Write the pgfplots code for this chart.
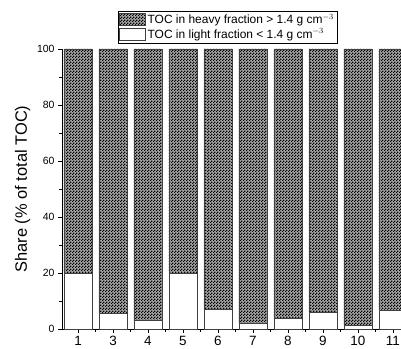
\documentclass[border=0pt]{standalone}
\usepackage{pgfplots}
\pgfplotsset{compat=1.18}
\usepackage{fontspec}
\setmainfont{Liberation Sans}
\usetikzlibrary{patterns}
\pgfdeclarepatternformonly{checker}{\pgfpointorigin}{\pgfpoint{3bp}{3bp}}{\pgfpoint{3bp}{3bp}}{%
  \pgfpathrectangle{\pgfpointorigin}{\pgfpoint{1.5bp}{1.5bp}}%
  \pgfpathrectangle{\pgfpoint{1.5bp}{1.5bp}}{\pgfpoint{1.5bp}{1.5bp}}%
  \pgfusepath{fill}}
\begin{document}
\begin{tikzpicture}
\begin{axis}[
  scale only axis, width=339bp, height=280bp,
  ybar stacked, bar width=0.8,
  xmin=-0.457, xmax=9.23, ymin=0, ymax=100,
  axis lines*=left, axis line style={-, black, line width=0.6pt},
  xtick={0,...,9}, xticklabels={1,3,4,5,6,7,8,9,10,11},
  ytick={0,20,...,100},
  minor x tick num=1, minor y tick num=1,
  tick align=outside, major tick length=4bp, minor tick length=2.5bp,
  tick style={black, line width=0.6pt},
  xticklabel style={font=\fontsize{13.5}{15}\selectfont},
  yticklabel style={font=\fontsize{10.5}{12}\selectfont},
  /pgf/number format/assume math mode=true,
  ylabel={Share (\% of total TOC)},
  ylabel style={font=\fontsize{16.5}{18}\selectfont},
  reverse legend,
  legend style={at={(0.488,1.021)}, anchor=south, draw=black, line width=0.6pt,
    font=\fontsize{12}{14}\selectfont, inner sep=1bp, row sep=0pt,
    cells={anchor=west}},
  mylegend/.style={legend image code/.code={\draw[##1] (0bp,-6bp) rectangle (26bp,6bp);}},
]
\addplot[fill=white, draw=black!75, line width=0.6pt, mylegend] coordinates {
  (0,20) (1,5.7) (2,3.0) (3,20) (4,7.1) (5,2.1) (6,3.7) (7,6.0) (8,1.3) (9,6.8)};
\addlegendentry{TOC in light fraction < 1.4 g cm$^{-3}$}
\addplot[fill=black!35, postaction={pattern=checker, pattern color=black}, draw=black!75, line width=0.6pt, mylegend] coordinates {
  (0,80) (1,94.3) (2,97.0) (3,80) (4,92.9) (5,97.9) (6,96.3) (7,94.0) (8,98.7) (9,93.2)};
\addlegendentry{TOC in heavy fraction > 1.4 g cm$^{-3}$}
\end{axis}
\pgfresetboundingbox
\useasboundingbox (current axis.south west) ++(-62bp,-20bp) rectangle ++(401bp,349bp);
\end{tikzpicture}
\end{document}
